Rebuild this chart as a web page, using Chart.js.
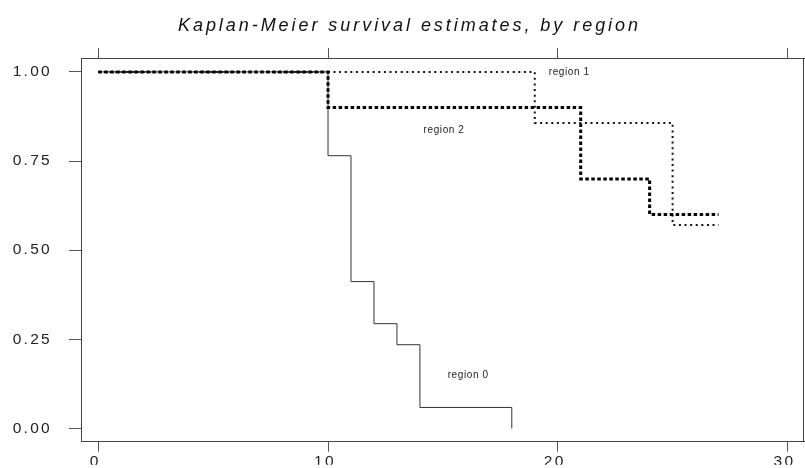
<!DOCTYPE html>
<html><head><meta charset="utf-8">
<script src="https://cdn.jsdelivr.net/npm/chart.js@4/dist/chart.umd.min.js"></script>
<style>html,body{margin:0;padding:0;background:#fff;}canvas{display:block;}</style>
</head><body>
<canvas id="c" width="805" height="468"></canvas>
<script>
const titleText = 'Kaplan-Meier survival estimates, by region';
const seriesNames = ['region 0', 'region 1', 'region 2'];
const region0Time = [0, 10, 11, 12, 13, 14, 18];
const region0Surv = [1, 0.765, 0.412, 0.294, 0.235, 0.059, 0];
const region1Time = [0, 19, 25, 27];
const region1Surv = [1, 0.857, 0.571, 0.571];
const region2Time = [0, 10, 21, 24, 27];
const region2Surv = [1, 0.9, 0.7, 0.6, 0.6];
const xTicks = [0, 10, 20, 30];
const yTicks = [0, 0.25, 0.5, 0.75, 1];

// annotation anchors (data units) for the series labels
const labelAnchorX = [16.1, 20.5, 15.05];
const labelAnchorY = [0.149, 1.0, 0.836];

const FONT = '"Liberation Sans", Arial, Helvetica, sans-serif';
const pts = (t, s) => t.map((x, i) => ({x: x, y: s[i]}));

const decor = {
  id: 'decor',
  beforeDraw(chart) {
    chart.ctx.letterSpacing = '2.3px';
  },
  afterDraw(chart) {
    const ctx = chart.ctx;
    const a = chart.chartArea;
    ctx.save();
    ctx.letterSpacing = '0px';
    // right border of the plot box
    ctx.strokeStyle = '#444';
    ctx.lineWidth = 1;
    ctx.beginPath();
    ctx.moveTo(Math.round(a.right) - 0.5, a.top);
    ctx.lineTo(Math.round(a.right) - 0.5, a.bottom);
    ctx.stroke();
    // title
    ctx.font = 'italic 18px ' + FONT;
    ctx.fillStyle = '#111';
    ctx.textBaseline = 'alphabetic';
    ctx.textAlign = 'left';
    const w0 = ctx.measureText(titleText).width;
    const sp = (460 - w0) / (titleText.length - 1);
    ctx.letterSpacing = sp + 'px';
    ctx.fillText(titleText, 178, 31);
    // series labels
    ctx.font = '10px ' + FONT;
    ctx.letterSpacing = '0.6px';
    ctx.fillStyle = '#222';
    ctx.textAlign = 'center';
    ctx.textBaseline = 'middle';
    const xs = chart.scales.x, ys = chart.scales.y;
    seriesNames.forEach((n, i) => {
      ctx.fillText(n, xs.getPixelForValue(labelAnchorX[i]), ys.getPixelForValue(labelAnchorY[i]));
    });
    ctx.restore();
    ctx.letterSpacing = '0px';
  }
};

const xMin = -0.753, xMax = 30.72, yMin = -0.037, yMax = 1.039;

new Chart(document.getElementById('c'), {
  type: 'line',
  data: {
    datasets: [
      {label: seriesNames[0], data: pts(region0Time, region0Surv), stepped: 'before',
       borderColor: '#333', borderWidth: 1, pointRadius: 0, fill: false, order: 3},
      {label: seriesNames[1], data: pts(region1Time, region1Surv), stepped: 'before',
       borderColor: '#111', borderWidth: 2, borderDash: [2, 3.6], pointRadius: 0, fill: false, order: 2},
      {label: seriesNames[2], data: pts(region2Time, region2Surv), stepped: 'before',
       borderColor: '#000', borderWidth: 3, borderDash: [3.5, 2.5], pointRadius: 0, fill: false, order: 1}
    ]
  },
  options: {
    responsive: false,
    devicePixelRatio: 1,
    animation: false,
    layout: {padding: {top: 48, right: 1, left: 0, bottom: 0}},
    plugins: {legend: {display: false}, title: {display: false}, tooltip: {enabled: false}},
    scales: {
      x: {
        type: 'linear', position: 'bottom', min: xMin, max: xMax,
        afterBuildTicks: s => { s.ticks = xTicks.map(v => ({value: v})); },
        afterFit: s => { s.height = 23; },
        grid: {drawOnChartArea: false, drawTicks: true, tickLength: 10, color: '#555', lineWidth: 1},
        border: {display: true, color: '#444', width: 1},
        ticks: {font: {family: FONT, size: 15.5}, color: '#222', padding: 1, labelOffset: -3,
                maxRotation: 0, autoSkip: false, callback: v => String(v)}
      },
      x2: {
        type: 'linear', position: 'top', min: xMin, max: xMax,
        afterBuildTicks: s => { s.ticks = xTicks.map(v => ({value: v})); },
        afterFit: s => { s.height = 10; },
        grid: {drawOnChartArea: false, drawTicks: true, tickLength: 10, color: '#555', lineWidth: 1},
        border: {display: true, color: '#444', width: 1},
        ticks: {display: false}
      },
      y: {
        type: 'linear', position: 'left', min: yMin, max: yMax,
        afterBuildTicks: s => { s.ticks = yTicks.map(v => ({value: v})); },
        afterFit: s => { s.width = 81; },
        grid: {drawOnChartArea: false, drawTicks: true, tickLength: 12, color: '#555', lineWidth: 1},
        border: {display: true, color: '#444', width: 1},
        ticks: {font: {family: FONT, size: 15.5}, color: '#222', padding: 17,
                autoSkip: false, callback: v => Number(v).toFixed(2)}
      }
    }
  },
  plugins: [decor]
});
</script>
</body></html>
